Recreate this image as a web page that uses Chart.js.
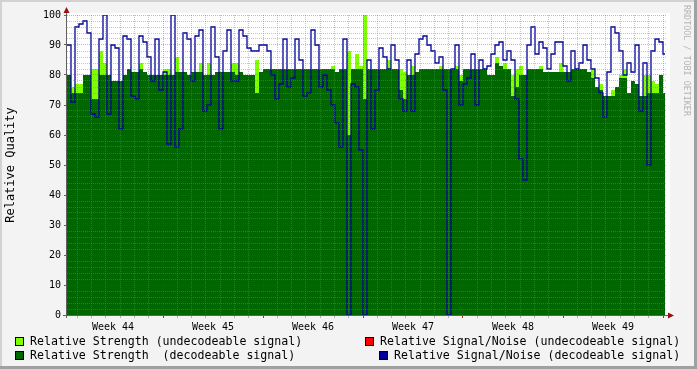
<!DOCTYPE html>
<html>
<head>
<meta charset="utf-8">
<script src="https://cdn.jsdelivr.net/npm/chart.js@4.4.1/dist/chart.umd.min.js"></script>
<style>
  html, body { margin: 0; padding: 0; background: #f3f3f3; }
  #wrap { position: relative; width: 697px; height: 369px; overflow: hidden; }
  #chart { position: absolute; left: 0; top: 0; }
  .leg { position: absolute; font: 11.6px "DejaVu Sans Mono", monospace; color: #000; white-space: pre; line-height: 14px; }
  .sw { position: absolute; width: 7px; height: 7px; border: 1px solid #000; }
  #credit { position: absolute; left: 682px; top: 5px; writing-mode: vertical-rl; font: 8.4px "DejaVu Sans Mono", monospace; line-height: 10px; color: #b4b4b4; white-space: pre; }
</style>
</head>
<body>
<div id="wrap">
  <canvas id="chart" width="697" height="369"></canvas>
  <div class="sw" style="left:15px; top:337px; background:#80ff00;"></div>
  <div class="leg" style="left:30px; top:334px;">Relative Strength (undecodeable signal)</div>
  <div class="sw" style="left:15px; top:351px; background:#006600;"></div>
  <div class="leg" style="left:30px; top:348px;">Relative Strength  (decodeable signal)</div>
  <div class="sw" style="left:365px; top:337px; background:#ff0000;"></div>
  <div class="leg" style="left:380px; top:334px;">Relative Signal/Noise (undecodeable signal)</div>
  <div class="sw" style="left:379px; top:351px; background:#000096;"></div>
  <div class="leg" style="left:394px; top:348px;">Relative Signal/Noise (decodeable signal)</div>
  <div id="credit">RRDTOOL / TOBI OETIKER</div>
</div>
<script>
// 6 Wochen, ein Wert alle 0.28 Tage (Tag 0 = linker Rand)
const sampleStep = 0.28;
const dataEnd = 41.86;
const firstWeekStart = 6.72;
const weekLabels = ['Week 44', 'Week 45', 'Week 46', 'Week 47', 'Week 48', 'Week 49'];

// Relative Strength (undecodeable signal)
const strengthUndecodeable = [
  80, 76, 77, 77, 80, 80, 82, 82, 88, 84,
  80, 78, 78, 78, 80, 82, 81, 81, 84, 81,
  80, 80, 80, 80, 82, 82, 80, 86, 81, 81,
  80, 81, 81, 84, 80, 84, 80, 81, 81, 81,
  81, 84, 84, 81, 80, 80, 80, 85, 81, 82,
  82, 82, 82, 82, 82, 82, 82, 82, 82, 82,
  82, 82, 82, 82, 82, 82, 83, 81, 82, 82,
  88, 82, 87, 83, 100, 82, 82, 82, 82, 82,
  85, 82, 82, 82, 81, 80, 83, 81, 82, 82,
  82, 82, 82, 83, 82, 82, 82, 83, 80, 82,
  82, 82, 82, 82, 82, 80, 80, 86, 83, 84,
  82, 80, 82, 83, 80, 82, 82, 82, 83, 81,
  81, 81, 81, 84, 81, 81, 82, 82, 82, 82,
  81, 82, 76, 77, 73, 73, 75, 76, 80, 82,
  74, 78, 77, 73, 80, 80, 78, 77, 80, 74
];

// Relative Strength (decodeable signal)
const strengthDecodeable = [
  80, 74, 74, 74, 80, 80, 72, 72, 80, 80,
  80, 78, 78, 78, 80, 82, 81, 81, 82, 81,
  80, 80, 80, 80, 80, 80, 80, 81, 81, 81,
  80, 81, 81, 81, 80, 80, 80, 81, 81, 81,
  81, 81, 80, 81, 80, 80, 80, 74, 81, 82,
  82, 82, 82, 82, 82, 82, 82, 82, 82, 82,
  82, 82, 82, 82, 82, 82, 82, 81, 82, 82,
  60, 82, 82, 82, 72, 82, 82, 82, 82, 82,
  82, 82, 82, 75, 72, 80, 80, 81, 82, 82,
  82, 82, 82, 82, 82, 82, 82, 82, 78, 82,
  82, 82, 82, 82, 82, 80, 80, 84, 83, 82,
  82, 73, 76, 80, 80, 82, 82, 82, 82, 81,
  81, 81, 81, 81, 81, 81, 82, 82, 82, 82,
  81, 79, 76, 75, 73, 73, 73, 76, 79, 79,
  74, 78, 77, 73, 73, 74, 74, 74, 80, 74
];

// Relative Signal/Noise (decodeable signal)
const snrDecodeable = [
  90, 71, 96, 97, 98, 94, 67, 66, 92, 100,
  67, 90, 89, 62, 93, 92, 73, 72, 93, 91,
  86, 78, 92, 75, 81, 57, 100, 56, 62, 94,
  92, 78, 93, 95, 68, 70, 96, 86, 62, 88,
  95, 78, 78, 95, 93, 89, 88, 88, 90, 90,
  88, 80, 72, 77, 92, 76, 79, 92, 85, 73,
  74, 95, 90, 76, 80, 75, 70, 64, 56, 92,
  0, 77, 76, 55, 0, 85, 62, 75, 89, 86,
  82, 90, 85, 72, 68, 85, 68, 87, 92, 93,
  90, 88, 84, 86, 75, 0, 82, 90, 70, 77,
  79, 87, 70, 85, 82, 83, 87, 90, 91, 85,
  88, 85, 72, 52, 45, 90, 96, 87, 91, 89,
  82, 87, 91, 91, 83, 78, 88, 82, 84, 90,
  85, 82, 79, 74, 66, 81, 96, 94, 88, 80,
  84, 81, 90, 68, 84, 50, 88, 92, 91, 87
];

// Relative Signal/Noise (undecodeable signal): keine Werte im Zeitraum
const snrUndecodeable = [];

function toPoints(values) {
    const pts = values.map((v, i) => ({ x: i * sampleStep, y: v }));
    if (values.length) pts.push({ x: dataEnd, y: values[values.length - 1] });
    return pts;
}

const minorGrid = 'rgba(128,128,128,0.45)';
const majorGrid = 'rgba(255,0,0,0.38)';

// Weißer Zeichenbereich, Achsen mit Pfeilen
const rrdFrame = {
    id: 'rrdFrame',
    beforeDraw(chart) {
        const { ctx, chartArea: a } = chart;
        ctx.save();
        ctx.fillStyle = '#ffffff';
        ctx.fillRect(a.left, a.top - 2, a.right - a.left + 3, a.bottom - a.top + 2);
        ctx.restore();
    },
    afterDraw(chart) {
        const { ctx, chartArea: a } = chart;
        ctx.save();
        ctx.strokeStyle = '#606060';
        ctx.lineWidth = 1;
        ctx.beginPath();
        ctx.moveTo(a.left - 0.5, a.bottom + 3);
        ctx.lineTo(a.left - 0.5, a.top - 6);
        ctx.moveTo(a.left - 4, a.bottom + 0.5);
        ctx.lineTo(a.right + 4, a.bottom + 0.5);
        ctx.stroke();
        ctx.fillStyle = '#9a1010';
        ctx.beginPath();
        ctx.moveTo(a.left - 3.5, a.top - 2);
        ctx.lineTo(a.left + 2.5, a.top - 2);
        ctx.lineTo(a.left - 0.5, a.top - 8);
        ctx.closePath();
        ctx.fill();
        ctx.beginPath();
        ctx.moveTo(a.right + 1, a.bottom - 2.5);
        ctx.lineTo(a.right + 1, a.bottom + 3.5);
        ctx.lineTo(a.right + 7, a.bottom + 0.5);
        ctx.closePath();
        ctx.fill();
        // Rahmen
        ctx.fillStyle = '#d2d2d2';
        ctx.fillRect(0, 0, 697, 2);
        ctx.fillRect(0, 0, 2, 369);
        ctx.fillStyle = '#a0a0a0';
        ctx.fillRect(0, 366, 697, 3);
        ctx.fillRect(694, 0, 3, 369);
        ctx.restore();
    }
};

Chart.defaults.font.family = '"DejaVu Sans Mono", monospace';
Chart.defaults.color = '#000';

const ctx = document.getElementById('chart').getContext('2d');
new Chart(ctx, {
    type: 'line',
    data: {
        datasets: [
            {
                label: 'Relative Signal/Noise (decodeable signal)',
                data: toPoints(snrDecodeable),
                borderColor: '#000096',
                borderWidth: 1.3,
                stepped: 'before',
                fill: false,
                pointRadius: 0
            },
            {
                label: 'Relative Signal/Noise (undecodeable signal)',
                data: toPoints(snrUndecodeable),
                borderColor: '#ff0000',
                borderWidth: 1.3,
                stepped: 'before',
                fill: false,
                pointRadius: 0
            },
            {
                label: 'Relative Strength  (decodeable signal)',
                data: toPoints(strengthDecodeable),
                borderWidth: 0,
                backgroundColor: '#006600',
                stepped: 'before',
                fill: 'origin',
                pointRadius: 0
            },
            {
                label: 'Relative Strength (undecodeable signal)',
                data: toPoints(strengthUndecodeable),
                borderWidth: 0,
                backgroundColor: '#80ff00',
                stepped: 'before',
                fill: 'origin',
                pointRadius: 0
            }
        ]
    },
    options: {
        responsive: false,
        animation: false,
        devicePixelRatio: 1,
        layout: { padding: { top: 15, right: 30, bottom: 0, left: 0 } },
        plugins: { legend: { display: false }, tooltip: { enabled: false } },
        scales: {
            x: {
                type: 'linear',
                min: 0,
                max: 42,
                afterBuildTicks: (scale) => {
                    const t = [];
                    for (let k = 0; k < 42; k++) {
                        const d = firstWeekStart - 6 + k;
                        t.push({ value: d, kind: (k - 6) % 7 === 0 ? 'week' : 'day' });
                    }
                    weekLabels.forEach((w, k) => {
                        t.push({ value: firstWeekStart - 3.5 + 7 * k, kind: 'label', text: w });
                    });
                    t.sort((a, b) => a.value - b.value);
                    scale.ticks = t;
                },
                afterFit: (scale) => { scale.height = 54; },
                ticks: {
                    autoSkip: false,
                    maxRotation: 0,
                    padding: 3,
                    font: { size: 10 },
                    callback: (value, index, ticks) => ticks[index].text || ''
                },
                grid: {
                    z: 1,
                    lineWidth: 1,
                    tickLength: 3,
                    color: (c) => c.tick && c.tick.kind === 'week' ? majorGrid : (c.tick && c.tick.kind === 'label' ? 'rgba(0,0,0,0)' : minorGrid),
                    tickColor: (c) => c.tick && c.tick.kind === 'week' ? '#c02020' : (c.tick && c.tick.kind === 'label' ? 'rgba(0,0,0,0)' : '#b0b0b0')
                },
                border: { display: false, dash: [1, 1] }
            },
            y: {
                min: 0,
                max: 100,
                afterFit: (scale) => { scale.width = 67; },
                ticks: {
                    stepSize: 2,
                    autoSkip: false,
                    padding: 3,
                    font: { size: 10 },
                    callback: (v) => v % 10 === 0 ? String(v) : ''
                },
                title: {
                    display: true,
                    text: 'Relative Quality',
                    font: { size: 12 },
                    padding: { top: 4, bottom: 0 }
                },
                grid: {
                    z: 1,
                    lineWidth: 1,
                    tickLength: 3,
                    color: (c) => c.tick && c.tick.value % 10 === 0 ? majorGrid : minorGrid,
                    tickColor: (c) => c.tick && c.tick.value % 10 === 0 ? '#606060' : 'rgba(0,0,0,0)'
                },
                border: { display: false, dash: [1, 1] }
            }
        }
    },
    plugins: [rrdFrame]
});
</script>
</body>
</html>
